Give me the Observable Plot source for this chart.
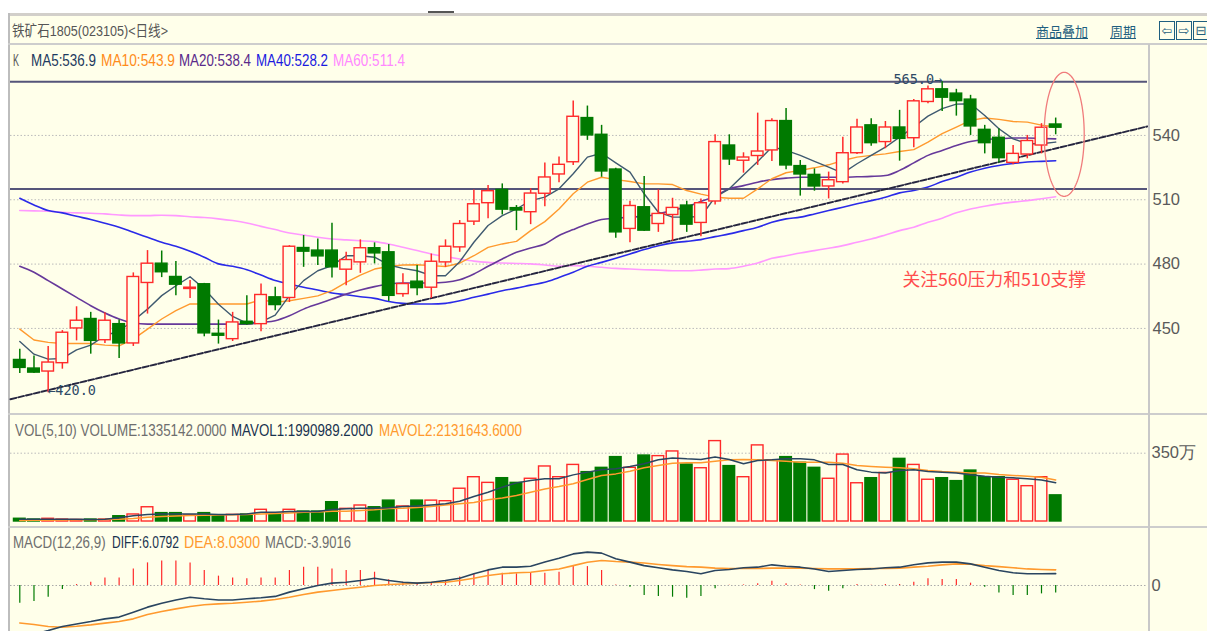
<!DOCTYPE html>
<html><head><meta charset="utf-8">
<script src="https://cdn.jsdelivr.net/npm/d3@7"></script>
<script src="https://cdn.jsdelivr.net/npm/@observablehq/plot@0.6"></script>
<style>
body{margin:0;background:#fff;}
#wrap{position:relative;width:1207px;height:631px;overflow:hidden;background:#fff;}
.abs{position:absolute;white-space:nowrap;line-height:20px;transform-origin:0 50%;}
.nar{font-family:"Liberation Sans",Arimo,sans-serif;font-size:17px;}
.cjk{font-family:"Liberation Sans","Noto Sans CJK SC",sans-serif;}
.pane{position:absolute;left:0;overflow:hidden;}
</style></head>
<body><div id="wrap"></div>
<script>
// ---------- data (index 0..73 = trading days, left to right) ----------
const open = [435.3,431.3,429.9,433.8,450.0,454.4,444.5,452.0,443.0,471.2,
480.2,474.0,468.4,470.6,447.5,445.0,453.1,452.0,464.5,464.2,
487.5,486.3,486.3,477.4,480.8,487.4,485.5,466.0,471.8,469.0,
480.8,487.8,499.8,508.4,514.6,506.1,504.2,512.8,521.8,527.5,
548.1,540.3,524.1,496.4,506.5,498.7,502.9,507.3,499.2,509.2,
535.3,528.2,530.4,533.0,546.7,525.7,521.6,516.2,518.2,531.7,
544.7,536.9,543.7,538.7,555.6,561.5,559.5,556.7,542.6,538.9,
527.2,531.1,535.3,545.1];
const high = [440.3,437.2,441.6,449.0,460.1,457.5,457.3,453.9,475.9,486.3,
486.1,481.2,472.3,471.0,453.9,457.5,465.2,470.7,469.2,488.6,
493.3,491.7,499.0,485.5,491.3,489.9,489.1,475.5,479.3,484.7,
491.3,500.3,514.6,516.6,517.4,507.3,515.1,527.1,529.9,556.0,
553.7,544.7,524.7,509.3,520.8,514.6,510.7,509.3,510.4,540.3,
540.3,531.9,550.4,547.8,552.5,528.3,524.4,522.9,539.2,547.5,
547.8,546.5,551.7,556.7,563.0,565.0,561.5,558.7,544.7,543.1,
535.3,540.0,545.5,548.1];
const low = [429.0,429.0,420.0,431.0,444.2,438.0,443.0,436.0,441.6,456.7,
473.7,465.2,464.0,446.1,442.7,443.9,451.5,448.5,458.3,462.1,
478.5,479.3,473.5,469.9,475.7,480.1,462.6,464.5,465.2,464.0,
478.5,485.5,498.0,501.1,502.9,495.6,498.4,506.8,517.9,526.0,
537.7,520.5,492.0,489.9,495.2,494.8,490.6,494.8,492.8,507.6,
526.0,522.4,526.0,527.9,524.0,511.7,514.0,510.4,517.4,531.1,
534.9,533.8,528.0,534.2,554.8,551.2,549.0,540.0,531.4,527.2,
526.3,529.1,531.4,540.3];
const close = [431.6,429.4,434.1,448.0,453.6,444.2,453.6,443.0,474.0,480.2,
476.2,470.4,469.0,447.7,446.6,452.8,452.0,465.6,460.9,488.1,
485.8,483.6,478.5,481.9,487.4,485.0,465.2,470.7,468.8,481.1,
488.1,498.7,507.9,514.0,505.4,505.0,512.9,520.4,526.3,548.7,
540.0,523.2,494.8,507.1,495.6,503.4,506.2,498.4,508.4,536.9,
528.8,529.7,532.5,546.7,526.0,521.8,516.2,519.1,531.7,543.7,
536.4,543.7,538.4,555.9,561.5,557.6,556.0,544.2,536.4,529.4,
531.4,537.4,543.6,543.6];
const ma5 = [443.9,438.0,435.7,436.0,440.0,442.2,446.6,448.9,453.6,459.0,
465.3,469.9,474.1,468.4,461.3,455.6,452.5,453.1,456.2,465.3,
472.3,476.9,479.3,483.9,483.9,483.2,479.6,478.0,476.9,474.6,
474.6,481.1,490.2,498.0,502.6,505.7,509.6,511.2,515.1,522.1,
529.9,531.7,527.2,522.9,512.8,504.2,501.9,501.9,502.2,511.2,
515.1,521.6,527.8,534.6,533.0,530.7,527.9,525.2,522.4,526.8,
530.7,534.5,539.2,543.9,549.0,552.5,554.6,554.8,549.3,543.1,
538.4,536.1,536.1,536.9];
const ma10 = [449.7,444.6,443.5,443.0,443.0,443.0,442.2,441.9,445.0,449.7,
454.4,458.3,461.4,461.4,461.4,461.4,461.4,463.4,462.2,462.9,
464.0,465.2,467.6,471.5,474.9,477.7,478.9,479.6,479.7,479.3,
478.9,480.4,483.9,487.8,489.4,490.6,495.6,499.8,505.7,512.8,
518.2,520.5,519.4,518.5,517.4,517.4,517.1,514.3,512.6,511.2,
510.7,510.7,515.1,519.8,522.6,523.7,524.9,526.3,528.3,529.9,
530.7,531.4,532.5,533.4,536.9,540.8,543.9,547.0,548.1,547.5,
546.5,546.2,544.8,543.9];
const ma20 = [479.0,476.2,472.3,468.4,464.5,460.6,457.2,454.4,452.5,452.0,
452.0,452.0,452.0,452.0,452.0,452.0,452.0,452.8,453.6,455.9,
459.0,461.4,463.7,466.0,467.9,469.5,470.7,471.2,471.2,471.2,
471.5,472.7,475.4,479.0,482.4,485.5,487.5,489.4,493.3,496.1,
498.7,500.8,501.4,501.9,502.3,503.4,505.0,506.8,509.2,511.7,
515.1,516.6,518.2,519.4,520.1,520.5,520.5,520.5,520.5,520.7,
520.9,521.3,523.7,527.2,530.7,533.0,535.3,537.2,538.1,538.4,
538.8,538.8,538.6,538.4];
const ma40 = [510.7,507.6,505.0,503.9,502.3,500.8,499.0,497.2,494.8,492.5,
490.2,488.3,486.0,483.2,480.1,479.0,477.4,474.9,472.4,470.7,
469.2,467.9,466.5,465.7,464.8,464.0,462.6,461.7,461.4,461.4,
461.7,462.9,464.5,466.0,467.6,468.8,470.2,471.5,473.8,476.2,
479.0,480.8,482.7,484.7,486.8,488.6,489.9,490.6,491.4,492.8,
494.1,495.6,497.2,499.5,501.1,501.9,503.4,505.0,506.5,508.1,
509.6,511.2,513.2,514.3,515.9,518.5,520.5,522.9,524.7,526.0,
526.9,527.6,527.9,528.2];
const ma60 = [505.0,504.8,504.7,504.2,503.9,503.7,503.4,502.9,502.6,502.6,
502.8,502.6,502.1,501.7,501.1,500.3,499.2,497.6,496.1,494.5,
493.6,492.5,491.7,491.3,490.9,490.5,489.4,487.9,486.3,484.7,
483.5,482.4,481.4,480.8,480.5,480.3,480.1,479.6,479.0,479.3,
479.0,478.5,478.0,477.7,477.4,477.2,476.9,476.9,477.2,477.7,
477.9,479.0,480.5,482.7,483.9,485.2,486.3,487.4,488.6,490.2,
491.7,493.6,495.6,497.2,499.5,501.4,503.9,505.7,507.0,508.1,
508.9,509.6,510.5,511.4];
// volume in millions of lots
const volume = [0.14,0.10,0.14,0.10,0.08,0.10,0.10,0.27,0.36,0.73,
0.43,0.43,0.31,0.43,0.31,0.34,0.36,0.60,0.39,0.60,
0.51,0.51,0.99,0.65,0.82,0.73,1.07,0.77,1.07,1.07,
1.04,1.68,2.27,1.98,2.22,1.98,2.19,2.82,2.27,2.90,
2.53,2.75,3.30,2.75,3.38,3.35,3.59,2.92,2.73,4.12,
2.84,2.27,3.90,3.13,3.30,3.01,2.75,2.19,3.43,1.96,
2.22,2.49,3.21,2.90,2.14,2.22,2.07,2.61,2.27,2.27,
2.14,1.81,2.27,1.34];
const mavol1 = [0.12,0.12,0.12,0.12,0.11,0.10,0.11,0.19,0.29,0.36,
0.39,0.39,0.39,0.39,0.36,0.36,0.39,0.48,0.48,0.51,
0.51,0.51,0.62,0.65,0.68,0.68,0.70,0.77,0.80,0.85,
0.91,1.04,1.28,1.50,1.76,1.98,2.10,2.19,2.19,2.39,
2.53,2.65,2.70,2.82,2.96,3.16,3.26,3.21,3.18,3.30,
3.18,2.96,3.13,3.16,3.21,3.21,3.16,2.92,2.92,2.65,
2.53,2.48,2.61,2.65,2.56,2.53,2.49,2.39,2.32,2.27,
2.24,2.19,2.13,1.99];
const mavol2 = [0.05,0.06,0.07,0.08,0.09,0.09,0.10,0.12,0.16,0.22,
0.26,0.28,0.31,0.32,0.33,0.34,0.36,0.39,0.41,0.44,
0.47,0.49,0.53,0.53,0.57,0.60,0.66,0.68,0.72,0.77,
0.84,0.91,0.97,1.11,1.21,1.33,1.50,1.67,1.79,1.93,
2.15,2.36,2.44,2.58,2.75,2.87,2.99,3.01,3.01,3.09,
3.16,3.18,3.16,3.13,3.09,3.04,3.04,3.04,2.99,2.87,
2.82,2.78,2.75,2.70,2.61,2.56,2.53,2.49,2.48,2.41,
2.36,2.32,2.27,2.13];
const diff = [-26.5,-25.0,-23.1,-21.0,-19.7,-18.5,-17.1,-16.2,-13.7,-11.1,
-9.1,-7.4,-6.0,-6.8,-7.4,-7.4,-6.8,-6.3,-5.6,-3.4,
-1.7,0.0,1.2,1.7,2.6,3.7,2.6,1.7,1.2,1.7,
2.6,3.7,6.0,8.0,9.4,9.4,9.9,12.0,14.0,16.2,
17.1,16.6,13.7,12.0,10.2,9.1,8.0,7.2,6.0,7.7,
8.2,9.1,9.4,10.6,9.9,9.4,8.5,7.2,7.7,8.2,
8.5,9.1,9.4,10.6,11.6,12.0,12.0,11.1,9.4,7.7,
6.5,6.0,6.0,6.08];
const dea = [-19.2,-20.0,-21.0,-21.4,-20.9,-20.2,-19.3,-18.5,-17.1,-14.9,
-13.3,-12.0,-10.8,-9.9,-9.4,-9.1,-8.6,-8.0,-7.2,-6.0,
-4.6,-3.4,-2.6,-1.7,-0.9,0.0,0.5,0.8,1.2,1.5,
1.7,2.6,3.7,5.1,6.0,6.5,6.8,7.7,8.5,10.2,
11.9,12.8,12.3,12.0,11.5,10.8,10.2,9.7,9.4,8.9,
8.7,8.7,8.7,8.9,8.9,8.9,8.7,8.5,8.5,8.5,
8.7,8.7,8.9,9.4,9.9,10.6,11.1,10.9,10.2,9.7,
9.1,8.5,8.2,8.03];
const macd = [-9.1,-8.2,-6.0,-2.1,0.5,1.7,3.9,3.9,8.5,11.6,
12.5,12.5,11.5,7.7,4.8,3.9,3.4,3.9,3.9,7.7,
9.4,9.4,8.5,7.7,7.7,6.8,2.9,1.7,1.2,1.2,
2.6,4.3,5.6,8.0,6.3,6.0,6.5,6.3,6.8,9.7,
9.7,7.7,0.3,-0.9,-5.1,-5.6,-6.0,-6.5,-5.6,-1.7,
0.1,0.3,0.9,2.2,0.9,0.3,-2.1,-2.9,-1.7,0.5,
0.1,0.5,0.5,1.7,3.4,3.1,3.1,1.2,-0.9,-3.9,
-5.1,-5.1,-4.3,-3.9];
const priceTicks = [450, 480, 510, 540];
const levelLines = [565, 515];           // horizontal pressure / support lines
const trendIdx = [-0.66, 79.47];         // trend line end points (day index)
const trendVal = [417.0, 544.2];         // trend line end points (price)
const ellipseCenter = [73.6, 540.5];     // circled area (day index, price)
const ellipseRadius = [1.41, 28.9];
const volTicks = [3.5];
const legendMain = [["K","#555"],["MA5:536.9","#1E3A60"],["MA10:543.9","#FF8C1A"],["MA20:538.4","#5A2A8A"],["MA40:528.2","#1A1AE0"],["MA60:511.4","#FF88FF"]];
const legendVol = [["VOL(5,10) VOLUME:1335142.0000","#6E6E6E"],["MAVOL1:1990989.2000","#1A3350"],["MAVOL2:2131643.6000","#FF9A2E"]];
const legendMacd = [["MACD(12,26,9)","#6E6E6E"],["DIFF:6.0792","#1A3350"],["DEA:8.0300","#FF9A2E"],["MACD:-3.9016","#6E6E6E"]];

// ---------- styles ----------
const BG = "#FFFFEA", RED = "#FF2A2A", GREEN = "#007A00";
const C5 = "#3F5A70", C10 = "#FF9A2E", C20 = "#66399A", C40 = "#2A2AE8", C60 = "#FF99FF";
const AXISFONT = '"Liberation Sans",Arimo,sans-serif';
const wrap = document.getElementById("wrap");

function box(left, top, w, h, color){
  const d = document.createElement("div");
  d.style.cssText = `position:absolute;left:${left}px;top:${top}px;width:${w}px;height:${h}px;background:${color};`;
  wrap.appendChild(d); return d;
}
function txt(text, left, top, color, cls, extra){
  const d = document.createElement("div");
  d.className = "abs " + (cls||"nar");
  d.textContent = text;
  d.style.cssText += `left:${left}px;top:${top}px;color:${color};` + (extra||"");
  wrap.appendChild(d); return d;
}
// squeeze a text horizontally so that it spans the width seen in the reference
function fit(el, w){
  const r = el.getBoundingClientRect().width;
  if (r > 0) el.style.transform = `scaleX(${w / r})`;
}

// frame
box(8, 13, 1199, 618, BG);
box(8, 13, 1199, 3, "#D2CFCA");
box(428, 11, 26, 2, "#555");
box(8, 13, 2, 618, "#BDBDBD");
box(8, 43, 1199, 2, "#CDCDCD");

const rows = d3.range(close.length).map(i => ({
  i, o: open[i], h: high[i], l: low[i], c: close[i], up: close[i] >= open[i],
  ma5: ma5[i], ma10: ma10[i], ma20: ma20[i], ma40: ma40[i], ma60: ma60[i],
  vol: volume[i], mv1: mavol1[i], mv2: mavol2[i], diff: diff[i], dea: dea[i], macd: macd[i]
}));
const trend = trendIdx.map((x, k) => ({i: x, v: trendVal[k]}));
const ellipse = d3.range(0, 361, 3).map(a => ({
  i: ellipseCenter[0] + ellipseRadius[0] * Math.cos(a * Math.PI / 180),
  v: ellipseCenter[1] + ellipseRadius[1] * Math.sin(a * Math.PI / 180)
}));

const common = {
  width: 1207, marginLeft: 10, marginRight: 60, marginTop: 0, marginBottom: 0,
  x: {type: "linear", domain: [-0.655, 79.47], axis: null},
  style: {background: "transparent", fontFamily: AXISFONT, fontSize: "16.5px", color: "#5A5A5A", overflow: "hidden"}
};
const MONO = "DejaVu Sans Mono, monospace";

const main = Plot.plot({
  ...common, height: 368,
  y: {domain: [410.8, 582.4], axis: "right", ticks: priceTicks, tickSize: 0, tickPadding: 5, label: null},
  marks: [
    Plot.ruleY(priceTicks, {stroke: "#BBBBBB", strokeDasharray: "1.5 2"}),
    Plot.line(rows, {x: "i", y: "ma60", stroke: C60, strokeWidth: 1.6, curve: "monotone-x"}),
    Plot.line(rows, {x: "i", y: "ma40", stroke: C40, strokeWidth: 1.6, curve: "monotone-x"}),
    Plot.ruleY(levelLines, {stroke: "#55557A", strokeWidth: 2}),
    Plot.line(trend, {x: "i", y: "v", stroke: "#262640", strokeWidth: 1.9, strokeDasharray: "6 2"}),
    Plot.line(rows, {x: "i", y: "ma20", stroke: C20, strokeWidth: 1.6, curve: "monotone-x"}),
    Plot.line(rows, {x: "i", y: "ma10", stroke: C10, strokeWidth: 1.4}),
    Plot.line(rows, {x: "i", y: "ma5", stroke: C5, strokeWidth: 1.4}),
    Plot.ruleX(rows, {x: "i", y1: "l", y2: "h", stroke: d => d.up ? RED : GREEN, strokeWidth: 1.5}),
    Plot.rect(rows, {x1: d => d.i - 0.41, x2: d => d.i + 0.41, y1: "o", y2: "c",
      fill: d => d.up ? BG : GREEN, stroke: d => d.up ? RED : GREEN, strokeWidth: 1.4}),
    Plot.line(ellipse, {x: "i", y: "v", stroke: "#F07C7C", strokeWidth: 1.3, curve: "linear"}),
    Plot.text([{i: 65, v: 565}], {x: "i", y: "v", text: () => "565.0→", textAnchor: "end", dy: -2,
      fill: "#2E4A66", fontFamily: MONO, fontSize: 13.5}),
    Plot.text([{i: 2, v: 420}], {x: "i", y: "v", text: () => "←420.0", textAnchor: "start", dx: -1, dy: -2,
      fill: "#2E4A66", fontFamily: MONO, fontSize: 13.5}),
    Plot.text([{i: 62.2, v: 472.4}], {x: "i", y: "v", text: () => "关注560压力和510支撑", textAnchor: "start",
      fill: "#FF4D4D", fontFamily: "Noto Sans CJK SC, sans-serif", fontSize: 17.8})
  ]
});
const pMain = document.createElement("div"); pMain.className = "pane";
pMain.style.top = "44px"; pMain.style.height = "368px"; pMain.appendChild(main); wrap.appendChild(pMain);

box(8, 413, 1199, 2, "#CDCDCD");

const vol = Plot.plot({
  ...common, height: 111,
  y: {domain: [-0.256, 5.432], axis: "right", ticks: volTicks, tickFormat: () => "350万", tickSize: 0, tickPadding: 4, label: null},
  marks: [
    Plot.ruleY(volTicks, {stroke: "#BBBBBB", strokeDasharray: "1.5 2"}),
    Plot.rect(rows, {x1: d => d.i - 0.41, x2: d => d.i + 0.41, y1: 0, y2: "vol",
      fill: d => d.up ? BG : GREEN, stroke: d => d.up ? RED : GREEN, strokeWidth: 1.4}),
    Plot.line(rows, {x: "i", y: "mv2", stroke: C10, strokeWidth: 1.5}),
    Plot.line(rows, {x: "i", y: "mv1", stroke: "#2A4560", strokeWidth: 1.5})
  ]
});
const pVol = document.createElement("div"); pVol.className = "pane";
pVol.style.top = "415px"; pVol.style.height = "111px"; pVol.appendChild(vol); wrap.appendChild(pVol);

box(8, 526, 1199, 2, "#CDCDCD");

const mac = Plot.plot({
  ...common, height: 103,
  y: {domain: [-23.59, 29.23], axis: "right", ticks: [0], tickFormat: () => "0", tickSize: 0, tickPadding: 4, label: null},
  marks: [
    Plot.ruleY([0], {stroke: "#AAAAAA", strokeDasharray: "1.5 2"}),
    Plot.ruleX(rows, {x: "i", y1: 0, y2: "macd", stroke: d => d.macd >= 0 ? RED : GREEN, strokeWidth: 1.2}),
    Plot.line(rows, {x: "i", y: "dea", stroke: C10, strokeWidth: 1.6}),
    Plot.line(rows, {x: "i", y: "diff", stroke: "#2A4560", strokeWidth: 1.6})
  ]
});
const pMac = document.createElement("div"); pMac.className = "pane";
pMac.style.top = "528px"; pMac.style.height = "103px"; pMac.appendChild(mac); wrap.appendChild(pMac);

// right axis line
box(1148, 44, 2, 587, "#C8C8C8");

// title bar
fit(txt("铁矿石1805(023105)<日线>", 12, 21, "#555", "cjk", "font-size:15px;"), 156);
fit(txt("商品叠加", 1036, 21, "#1F5F80", "cjk", "font-family:'Noto Sans CJK SC';font-size:13.5px;text-decoration:underline;"), 52);
fit(txt("周期", 1110, 21, "#1F5F80", "cjk", "font-family:'Noto Sans CJK SC';font-size:13.5px;text-decoration:underline;"), 26);
[["⇦",1159],["⇨",1176],["⊟",1193]].forEach(([s, x]) => {
  txt(s, x, 21, "#1F5F80", "cjk", "font-family:'DejaVu Sans';font-size:13px;width:14px;height:17px;line-height:17px;text-align:center;border:1px solid #1F5F80;");
});

// legends (x positions and widths as in the reference)
const legMain = [[13, 6], [31, 65], [101, 74], [179, 72], [256, 72], [333, 72]];
legendMain.forEach(([t, c], k) => fit(txt(t, legMain[k][0], 51, c), legMain[k][1]));
const legVol = [[14.5, 211.5], [231, 142], [379, 143]];
legendVol.forEach(([t, c], k) => fit(txt(t, legVol[k][0], 421, c), legVol[k][1]));
const legMac = [[13.4, 92.6], [112, 67], [184, 76], [265, 86]];
legendMacd.forEach(([t, c], k) => fit(txt(t, legMac[k][0], 533, c), legMac[k][1]));
</script></body></html>
